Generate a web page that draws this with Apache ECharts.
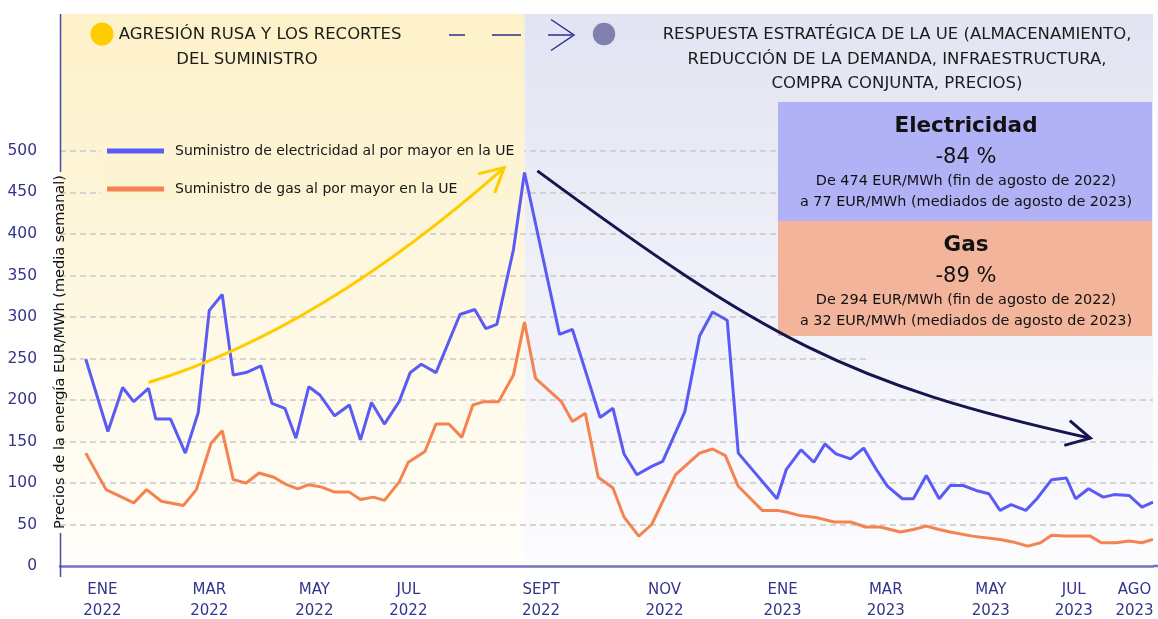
<!DOCTYPE html>
<html><head><meta charset="utf-8">
<script src="https://cdn.jsdelivr.net/npm/echarts@6/dist/echarts.min.js"></script>
<style>html,body{margin:0;padding:0;background:#fff}#c{width:1158px;height:619px}</style>
</head><body><div id="c"></div>
<script>
// ---------- DATA ----------
const elecName = 'Suministro de electricidad al por mayor en la UE';
const gasName = 'Suministro de gas al por mayor en la UE';
const elecDates = ['2022-01-03','2022-01-15','2022-01-23','2022-01-29','2022-02-06','2022-02-10','2022-02-18','2022-02-26','2022-03-05','2022-03-11','2022-03-18','2022-03-24','2022-03-31','2022-04-08','2022-04-14','2022-04-21','2022-04-27','2022-05-04','2022-05-10','2022-05-18','2022-05-26','2022-06-01','2022-06-07','2022-06-14','2022-06-22','2022-06-28','2022-07-04','2022-07-12','2022-07-25','2022-08-02','2022-08-08','2022-08-14','2022-08-23','2022-08-29','2022-09-17','2022-09-24','2022-10-09','2022-10-16','2022-10-22','2022-10-29','2022-11-06','2022-11-12','2022-11-24','2022-12-02','2022-12-09','2022-12-17','2022-12-23','2023-01-13','2023-01-18','2023-01-26','2023-02-02','2023-02-08','2023-02-14','2023-02-22','2023-03-01','2023-03-08','2023-03-14','2023-03-22','2023-03-28','2023-04-04','2023-04-11','2023-04-17','2023-04-24','2023-05-01','2023-05-08','2023-05-14','2023-05-20','2023-05-28','2023-06-03','2023-06-11','2023-06-19','2023-06-24','2023-07-01','2023-07-09','2023-07-15','2023-07-23','2023-07-30','2023-08-05'];
const elecValues = [249,162,215,198,214,177,177,136,185,308,327,230,233,241,196,190,154,216,206,181,194,152,197,171,198,233,243,233,303,309,286,291,381,474,279,285,179,190,135,110,120,126,186,277,306,296,136,81,116,140,125,147,135,129,142,116,96,81,81,109,81,97,97,91,87,67,74,67,81,104,106,81,93,83,86,85,71,77];
const gasDates = ['2022-01-03','2022-01-14','2022-01-29','2022-02-05','2022-02-13','2022-02-25','2022-03-04','2022-03-12','2022-03-18','2022-03-24','2022-03-31','2022-04-07','2022-04-15','2022-04-21','2022-04-28','2022-05-04','2022-05-11','2022-05-18','2022-05-26','2022-06-01','2022-06-08','2022-06-14','2022-06-22','2022-06-27','2022-07-06','2022-07-12','2022-07-19','2022-07-26','2022-08-01','2022-08-07','2022-08-15','2022-08-23','2022-08-29','2022-09-04','2022-09-18','2022-09-24','2022-10-01','2022-10-08','2022-10-16','2022-10-22','2022-10-30','2022-11-06','2022-11-19','2022-12-02','2022-12-09','2022-12-16','2022-12-23','2023-01-05','2023-01-13','2023-01-18','2023-01-25','2023-02-04','2023-02-13','2023-02-22','2023-03-02','2023-03-10','2023-03-21','2023-03-28','2023-04-04','2023-04-11','2023-04-17','2023-04-29','2023-05-14','2023-05-21','2023-05-29','2023-06-05','2023-06-11','2023-06-18','2023-07-02','2023-07-08','2023-07-16','2023-07-23','2023-07-30','2023-08-05'];
const gasValues = [136,92,76,92,78,73,92,148,163,104,100,112,107,99,93,98,95,89,89,80,83,79,101,125,138,171,171,155,194,198,198,230,294,226,198,174,184,107,94,59,36,50,110,136,141,133,96,67,67,65,61,58,53,53,47,47,41,44,48,44,41,36,32,29,24,28,37,36,36,28,28,30,28,32];
const xTickDates = ['2022-01-12','2022-03-11','2022-05-07','2022-06-27','2022-09-07','2022-11-13','2023-01-16','2023-03-13','2023-05-09','2023-06-23','2023-07-26'];
const xTickLabels = ['ENE\n2022','MAR\n2022','MAY\n2022','JUL\n2022','SEPT\n2022','NOV\n2022','ENE\n2023','MAR\n2023','MAY\n2023','JUL\n2023','AGO\n2023'];
const yTicks = [0,50,100,150,200,250,300,350,400,450,500];
const yAxisName = 'Precios de la energía EUR/MWh (media semanal)';
const phaseLeft = ['AGRESIÓN RUSA Y LOS RECORTES','DEL SUMINISTRO'];
const phaseRight = ['RESPUESTA ESTRATÉGICA DE LA UE (ALMACENAMIENTO,','REDUCCIÓN DE LA DEMANDA, INFRAESTRUCTURA,','COMPRA CONJUNTA, PRECIOS)'];
const elecBox = ['Electricidad','-84 %','De 474 EUR/MWh (fin de agosto de 2022)','a 77 EUR/MWh (mediados de agosto de 2023)'];
const gasBox = ['Gas','-89 %','De 294 EUR/MWh (fin de agosto de 2022)','a 32 EUR/MWh (mediados de agosto de 2023)'];
const xMin = '2021-12-20', xMax = '2023-08-05', yMax = 665;
const peakDate = '2022-08-29';
const upperGridEnd = '2023-03-03';
const yellowArrow = [['2022-02-06',221],['2022-04-16',268],['2022-06-20',364],['2022-08-18',480]];
const navyArrow = [['2022-09-05',476],['2023-01-06',275],['2023-02-20',219],['2023-07-02',154]];

// ---------- HELPERS ----------
function T(s){const [y,m,d]=s.split('-').map(Number);return Date.UTC(y,m-1,d);}
const FONT = '"DejaVu Sans", sans-serif';
const tickTs = xTickDates.map(T);
const BLUE = '#5a5af5', ORANGE = '#f4834f';
const AXC = '#34348c';

const chart = echarts.init(document.getElementById('c'), null, {renderer:'canvas'});

const gridLines = yTicks.filter(v => v > 0).map(v => [
  {coord:[T(xMin), v]},
  {coord:[T(v >= 250 ? upperGridEnd : xMax), v]}
]);

chart.setOption({
  animation:false,
  textStyle:{fontFamily:FONT},
  grid:{left:60,right:5,top:14,bottom:53,containLabel:false,outerBoundsMode:'none'},
  legend:{
    orient:'vertical', left:101, top:138, itemWidth:57, itemHeight:5, itemGap:24, z:1.5,
    icon:'rect', selectedMode:false, backgroundColor:'#fdf4d4',
    padding:[6,10,6,6],
    textStyle:{fontSize:14,color:'#161616',fontFamily:FONT,padding:[0,0,0,6]},
    data:[elecName, gasName]
  },
  xAxis:{
    type:'value', min:T(xMin), max:T(xMax), scale:true,
    axisLine:{show:true,onZero:false,lineStyle:{color:'#7373c3',width:2.5}},
    axisTick:{show:false}, splitLine:{show:false},
    axisLabel:{
      customValues:tickTs, color:AXC, fontSize:15, lineHeight:21, margin:14,
      fontFamily:FONT, showMinLabel:true, showMaxLabel:true, hideOverlap:false,
      formatter:function(val){
        for(let i=0;i<tickTs.length;i++){ if(Math.abs(tickTs[i]-val)<43200000) return xTickLabels[i]; }
        return '';
      }
    }
  },
  yAxis:{
    type:'value', min:0, max:yMax, interval:50,
    axisLine:{show:false}, axisTick:{show:false}, splitLine:{show:false},
    axisLabel:{customValues:yTicks, color:AXC, fontSize:15.5, margin:23, fontFamily:FONT,
      formatter:function(v){return v<=500 ? String(v) : '';}}
  },
  series:[
    {name:elecName, type:'line', data:elecDates.map((d,i)=>[T(d), elecValues[i]]),
     showSymbol:false, symbol:'none', z:2, silent:true,
     lineStyle:{color:BLUE,width:3}, itemStyle:{color:BLUE}},
    {name:gasName, type:'line', data:gasDates.map((d,i)=>[T(d), gasValues[i]]),
     showSymbol:false, symbol:'none', z:2, silent:true,
     lineStyle:{color:ORANGE,width:3}, itemStyle:{color:ORANGE},
     markLine:{silent:true, z:1, symbol:'none', label:{show:false},
       lineStyle:{color:'#c9c9c9',type:[6,4],width:1.5}, data:gridLines}}
  ]
});

// ---------- ANNOTATIONS (positioned through the axes) ----------
function P(d,v){return chart.convertToPixel({gridIndex:0},[T(d),v]);}
const [x0,yB] = P(xMin,0);
const [x1,yT] = P(xMax,yMax);
const [xPk] = P(peakDate,0);

const g = [];
g.push({type:'rect', z:-10, silent:true, shape:{x:x0,y:yT,width:xPk-x0,height:yB-yT},
  style:{fill:new echarts.graphic.LinearGradient(0,0,0,1,[{offset:0,color:'#fdf1c8'},{offset:1,color:'#fffefa'}])}});
g.push({type:'rect', z:-10, silent:true, shape:{x:xPk,y:yT,width:x1-xPk,height:yB-yT},
  style:{fill:new echarts.graphic.LinearGradient(0,0,0,1,[{offset:0,color:'#e2e4f2'},{offset:1,color:'#fcfcfe'}])}});
g.push({type:'line', z:3, silent:true, shape:{x1:x0+0.5,y1:yT,x2:x0+0.5,y2:172}, style:{stroke:'#4848a8',lineWidth:1.5}});
g.push({type:'line', z:3, silent:true, shape:{x1:x0+0.5,y1:533,x2:x0+0.5,y2:yB+11}, style:{stroke:'#4848a8',lineWidth:1.5}});
g.push({type:'line', z:3, silent:true, shape:{x1:x1,y1:yB,x2:1158,y2:yB}, style:{stroke:'#7373c3',lineWidth:2.5}});
g.push({type:'text', z:3, silent:true, x:x0, y:352, rotation:Math.PI/2,
  style:{text:yAxisName, fill:'#111', fontSize:14.5, fontFamily:FONT, align:'center', verticalAlign:'middle'}});

const TXT = '#1c1c1c';
g.push({type:'circle', z:3, silent:true, shape:{cx:102,cy:34,r:11.5}, style:{fill:'#ffcc00'}});
g.push({type:'text', z:3, silent:true, x:260, y:35, style:{text:phaseLeft[0], fill:TXT, fontSize:16.5, fontFamily:FONT, align:'center', verticalAlign:'middle'}});
g.push({type:'text', z:3, silent:true, x:247, y:60, style:{text:phaseLeft[1], fill:TXT, fontSize:16.5, fontFamily:FONT, align:'center', verticalAlign:'middle'}});
const NAVY2 = '#2d2d8f';
[[449,465],[492,521],[548,572]].forEach(s=>g.push({type:'line', z:3, silent:true, shape:{x1:s[0],y1:35,x2:s[1],y2:35}, style:{stroke:NAVY2,lineWidth:1.5}}));
g.push({type:'polyline', z:3, silent:true, shape:{points:[[551,19.5],[574,35],[551,50.5]]}, style:{stroke:NAVY2,lineWidth:1.5,fill:null}});
g.push({type:'circle', z:3, silent:true, shape:{cx:604,cy:34,r:11.2}, style:{fill:'#8080b0'}});
phaseRight.forEach((t,i)=>g.push({type:'text', z:3, silent:true, x:897, y:35+i*24.5, style:{text:t, fill:TXT, fontSize:16.5, fontFamily:FONT, align:'center', verticalAlign:'middle'}}));

function box(lines, y, h, color){
  g.push({type:'rect', z:3, silent:true, shape:{x:778,y:y,width:374,height:h}, style:{fill:color}});
  const cx = 966;
  g.push({type:'text', z:4, silent:true, x:cx, y:y+24, style:{text:lines[0], fill:'#111', fontSize:21.5, fontWeight:'bold', fontFamily:FONT, align:'center', verticalAlign:'middle'}});
  g.push({type:'text', z:4, silent:true, x:cx, y:y+56, style:{text:lines[1], fill:'#111', fontSize:21, fontFamily:FONT, align:'center', verticalAlign:'middle'}});
  g.push({type:'text', z:4, silent:true, x:cx, y:y+79, style:{text:lines[2], fill:'#111', fontSize:14.4, fontFamily:FONT, align:'center', verticalAlign:'middle'}});
  g.push({type:'text', z:4, silent:true, x:cx, y:y+100.5, style:{text:lines[3], fill:'#111', fontSize:14.4, fontFamily:FONT, align:'center', verticalAlign:'middle'}});
}
box(elecBox, 102, 119, '#b1b1f5');
box(gasBox, 221, 115, '#f2b49b');

function arrow(pts, color, w){
  const p = pts.map(a=>P(a[0],a[1]));
  g.push({type:'bezierCurve', z:5, silent:true,
    shape:{x1:p[0][0],y1:p[0][1],cpx1:p[1][0],cpy1:p[1][1],cpx2:p[2][0],cpy2:p[2][1],x2:p[3][0],y2:p[3][1]},
    style:{stroke:color,lineWidth:w,fill:null}});
  const dx=p[3][0]-p[2][0], dy=p[3][1]-p[2][1], L=Math.hypot(dx,dy);
  const ux=dx/L, uy=dy/L, len=27, th=28*Math.PI/180;
  const wing = s => [p[3][0]-len*(ux*Math.cos(s*th)-uy*Math.sin(s*th)), p[3][1]-len*(ux*Math.sin(s*th)+uy*Math.cos(s*th))];
  g.push({type:'polyline', z:5, silent:true, shape:{points:[wing(1),p[3],wing(-1)]}, style:{stroke:color,lineWidth:w,fill:null,lineJoin:'miter'}});
}
arrow(yellowArrow, '#ffcc00', 3);
arrow(navyArrow, '#15154f', 3);

chart.setOption({graphic:{elements:g}});
</script></body></html>
